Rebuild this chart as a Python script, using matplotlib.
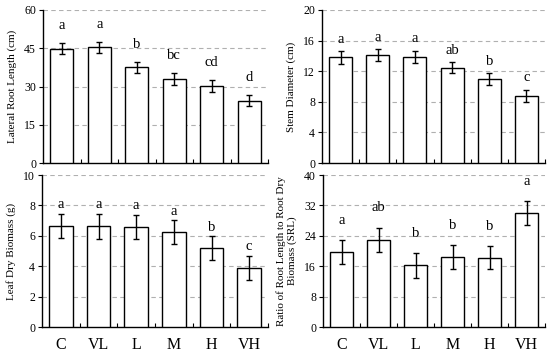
import matplotlib.pyplot as plt
import numpy as np

plt.rcParams['font.family'] = ['Liberation Serif', 'DejaVu Serif']

groups = ['C', 'VL', 'L', 'M', 'H', 'VH']

# lateral root length (cm)
lrl = [44.9, 45.3, 37.5, 33.0, 30.1, 24.4]
lrl_err = [2.2, 2.3, 2.2, 2.3, 2.3, 2.2]
lrl_let = ['a', 'a', 'b', 'bc', 'cd', 'd']

# stem diameter
sd = [13.8, 14.1, 13.9, 12.45, 11.0, 8.8]
sd_err = [0.8, 0.8, 0.8, 0.75, 0.75, 0.78]
sd_let = ['a', 'a', 'a', 'ab', 'b', 'c']

# leaf dry biomass (g)
ldb = [6.66, 6.62, 6.59, 6.24, 5.17, 3.89]
ldb_err = [0.8, 0.8, 0.8, 0.77, 0.79, 0.78]
ldb_let = ['a', 'a', 'a', 'a', 'b', 'c']

# SRL
srl = [19.65, 22.9, 16.2, 18.4, 18.2, 29.96]
srl_err = [3.15, 3.2, 3.2, 3.1, 3.0, 3.1]
srl_let = ['a', 'ab', 'b', 'b', 'b', 'a']

fig = plt.figure(figsize=(5.5, 3.58), dpi=100)

W, H = 550, 358
boxes = [(43, 10, 268, 163), (322, 10, 545, 163),
         (42, 175, 268, 327), (323, 175, 545, 327)]

panels = [
    (lrl, lrl_err, lrl_let, 60, 15, 'Lateral Root Length (cm)', 4.3),
    (sd, sd_err, sd_let, 20, 4, 'Stem Diameter (cm)', 0.7),
    (ldb, ldb_err, ldb_let, 10, 2, 'Leaf Dry Biomass (g)', 0.18),
    (srl, srl_err, srl_let, 40, 8, 'Ratio of Root Length to Root Dry\nBiomass (SRL)', 3.6),
]

x = np.arange(len(groups))
for i, (vals, errs, lets, ymax, step, lab, off) in enumerate(panels):
    l, t, r, b = boxes[i]
    ax = fig.add_axes([l / W, 1 - b / H, (r - l) / W, (b - t) / H])
    ax.bar(x, vals, width=0.62, color='white', edgecolor='black', linewidth=1.0, zorder=3)
    ax.errorbar(x, vals, yerr=errs, fmt='none', ecolor='black', elinewidth=1.0,
                capsize=2.5, capthick=1.0, zorder=4)
    for xi, v, e, s in zip(x, vals, errs, lets):
        ax.text(xi, v + e + off, s, ha='center', va='bottom', fontsize=10.5)
    ax.set_xlim(-0.5, 5.5)
    ax.set_ylim(0, ymax)
    ax.set_yticks(np.arange(0, ymax + step / 2, step))
    ax.yaxis.grid(True, linestyle=(0, (4, 3)), color='#b0b0b0', linewidth=0.8, zorder=0)
    ax.set_axisbelow(True)
    ax.set_xticks(np.arange(0.5, 6, 1))
    ax.set_xticklabels([])
    ax.tick_params(axis='x', direction='in', length=3, width=0.8)
    ax.tick_params(axis='y', direction='out', length=3, width=0.8, labelsize=8.5, pad=2)
    for sp in ['top', 'right']:
        ax.spines[sp].set_visible(False)
    for sp in ['left', 'bottom']:
        ax.spines[sp].set_linewidth(1.0)
    ax.set_ylabel(lab, fontsize=8, labelpad=5)
    if i >= 2:
        for xi, g in zip(x, groups):
            ax.text(xi, -0.12, g, transform=ax.get_xaxis_transform(),
                    ha='center', va='center', fontsize=11.5)

fig.savefig('out.png', dpi=100)
